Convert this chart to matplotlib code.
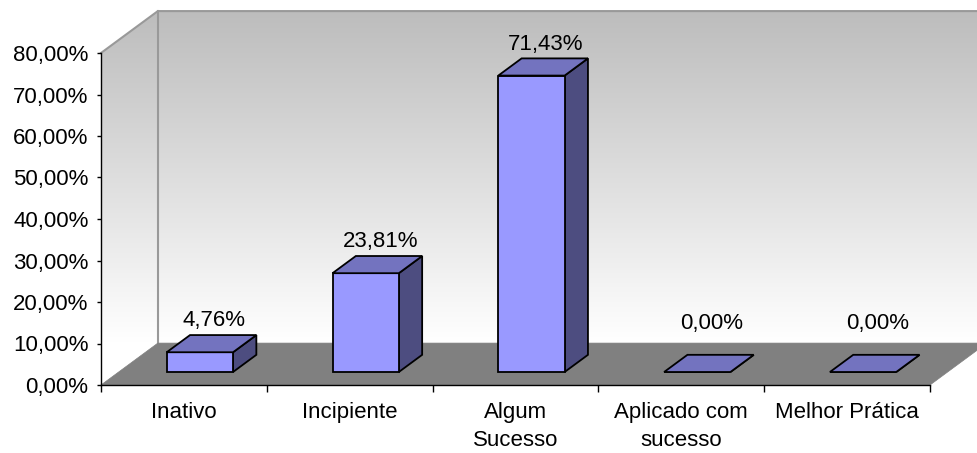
import numpy as np
import matplotlib.pyplot as plt
from matplotlib.patches import Polygon
from matplotlib.ticker import FixedLocator, NullFormatter

plt.rcParams['font.family'] = ['Liberation Sans', 'DejaVu Sans']

# data
categorias = ['Inativo', 'Incipiente', 'Algum\nSucesso', 'Aplicado com\nsucesso', 'Melhor Prática']
valores = [4.76, 23.81, 71.43, 0.00, 0.00]
rotulos = ['4,76%', '23,81%', '71,43%', '0,00%', '0,00%']
yticks = [0, 10, 20, 30, 40, 50, 60, 70, 80]

# depth offset of the fake 3D box (data units)
DX, DY = 0.343, 10.1
D0, D1 = 0.31, 0.72  # bar depth range
FS = 16


def proj(x, y, d):
    return (x + d * DX, y + d * DY)


fig = plt.figure(figsize=(9.77, 4.53), dpi=100)
ax = fig.add_axes([101 / 977, 68 / 453, 829 / 977, 332 / 453])
ax.patch.set_visible(False)
n = len(categorias)
ymax = yticks[-1]

# wall gradient (light at floor, gray at top)
rows = 256
t = np.linspace(0, 1, rows)[:, None, None]
top = np.array([0.74, 0.74, 0.74])
bot = np.array([1.0, 1.0, 1.0])
grad = bot * (1 - t) + top * t

# back wall
im = ax.imshow(grad, extent=(DX, n + DX, DY, ymax + DY), origin='lower',
               aspect='auto', zorder=0, interpolation='bilinear')
im.set_clip_box(fig.bbox)

# left wall
lw_poly = Polygon([proj(0, 0, 0), proj(0, 0, 1), proj(0, ymax, 1), proj(0, ymax, 0)],
                  closed=True, transform=ax.transData)
im2 = ax.imshow(grad, extent=(0, DX, DY, ymax + DY), origin='lower',
                aspect='auto', zorder=0, interpolation='bilinear')
im2.set_clip_box(fig.bbox)
im2.set_clip_path(lw_poly)
im3 = ax.imshow(grad[:1], extent=(0, DX, 0, DY), origin='lower',
                aspect='auto', zorder=0)
im3.set_clip_box(fig.bbox)
im3.set_clip_path(lw_poly)

# wall edges
edge = dict(color='#999999', lw=1.5, clip_on=False, zorder=0.5)
ax.plot(*zip(proj(0, ymax, 0), proj(0, ymax, 1), proj(n, ymax, 1)), **edge)
ax.plot(*zip(proj(0, 0, 1), proj(0, ymax, 1)), **edge)

# floor
floor = Polygon([proj(0, 0, 0), proj(n, 0, 0), proj(n, 0, 1), proj(0, 0, 1)],
                closed=True, facecolor='#808080', edgecolor='#808080', lw=0.5,
                clip_on=False, zorder=1)
ax.add_patch(floor)

# bars
for i, v in enumerate(valores):
    x0, x1 = i + 0.29, i + 0.69
    side = [proj(x1, 0, D0), proj(x1, 0, D1), proj(x1, v, D1), proj(x1, v, D0)]
    front = [proj(x0, 0, D0), proj(x1, 0, D0), proj(x1, v, D0), proj(x0, v, D0)]
    topf = [proj(x0, v, D0), proj(x1, v, D0), proj(x1, v, D1), proj(x0, v, D1)]
    for pts, c in ((side, '#4D4D80'), (front, '#9999FF'), (topf, '#7373BF')):
        ax.add_patch(Polygon(pts, closed=True, facecolor=c, edgecolor='black',
                             lw=1.3, joinstyle='miter', clip_on=False, zorder=3))
    off = 15 if v > 0 else 27
    ax.annotate(rotulos[i], proj((x0 + x1) / 2, v, (D0 + D1) / 2 + 0.05),
                xytext=(0, off), textcoords='offset points', ha='center',
                va='center', fontsize=FS, zorder=4, annotation_clip=False)

ax.set_xlim(0, n)
ax.set_ylim(0, ymax)

for s in ['top', 'right']:
    ax.spines[s].set_visible(False)
for s in ['left', 'bottom']:
    ax.spines[s].set_color('black')
    ax.spines[s].set_linewidth(1)
    ax.spines[s].set_zorder(5)

ax.set_yticks(yticks)
ax.set_yticklabels([f'{y:.2f}%'.replace('.', ',') for y in yticks], fontsize=FS)
ax.tick_params(axis='y', direction='out', length=3, width=1, pad=6)

ax.xaxis.set_major_locator(FixedLocator(range(n + 1)))
ax.xaxis.set_major_formatter(NullFormatter())
ax.xaxis.set_minor_locator(FixedLocator([i + 0.5 for i in range(n)]))
ax.set_xticklabels(categorias, minor=True, fontsize=FS, linespacing=1.45)
ax.tick_params(axis='x', which='major', direction='out', length=5, width=1)
ax.tick_params(axis='x', which='minor', length=0, pad=12)

fig.savefig('out.png', dpi=100)
